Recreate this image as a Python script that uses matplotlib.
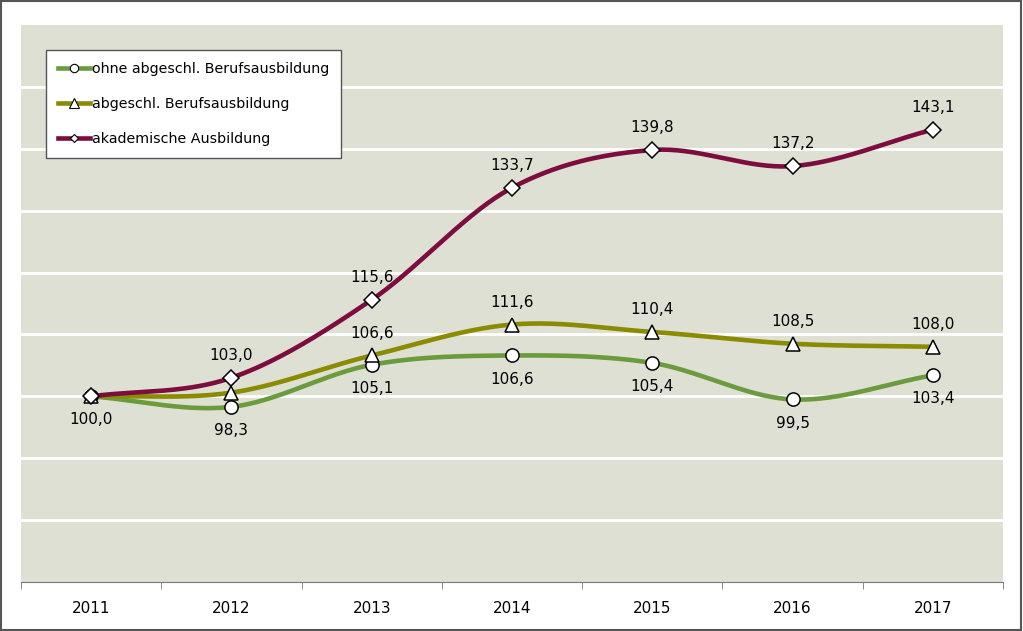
import numpy as np
import matplotlib.pyplot as plt
from matplotlib.lines import Line2D
from matplotlib.patches import Rectangle

years = ['2011', '2012', '2013', '2014', '2015', '2016', '2017']
ohne = [100.0, 98.3, 105.1, 106.6, 105.4, 99.5, 103.4]
abgeschl = [100.0, 100.6, 106.6, 111.6, 110.4, 108.5, 108.0]
akad = [100.0, 103.0, 115.6, 133.7, 139.8, 137.2, 143.1]
names = ['ohne abgeschl. Berufsausbildung', 'abgeschl. Berufsausbildung', 'akademische Ausbildung']

# which labels go below (-1) / above (+1); None = no label
pos_ohne = [-1, -1, -1, -1, -1, -1, -1]
pos_abg = [None, None, 1, 1, 1, 1, 1]
pos_akad = [None, 1, 1, 1, 1, 1, 1]


def smooth(x, y, n=40):
    # catmull-rom spline through the points (like excel's smoothed line)
    x = np.asarray(x, float); y = np.asarray(y, float)
    px = np.concatenate([[2 * x[0] - x[1]], x, [2 * x[-1] - x[-2]]])
    py = np.concatenate([[2 * y[0] - y[1]], y, [2 * y[-1] - y[-2]]])
    xs, ys = [], []
    t = np.linspace(0, 1, n)
    for i in range(1, len(px) - 2):
        for p, out in ((px, xs), (py, ys)):
            p0, p1, p2, p3 = p[i - 1], p[i], p[i + 1], p[i + 2]
            out.append(0.5 * ((2 * p1) + (-p0 + p2) * t + (2 * p0 - 5 * p1 + 4 * p2 - p3) * t ** 2
                              + (-p0 + 3 * p1 - 3 * p2 + p3) * t ** 3))
    return np.concatenate(xs), np.concatenate(ys)


fig = plt.figure(figsize=(10.23, 6.31), dpi=100)
ax = fig.add_axes([21 / 1023, 1 - 582 / 631, 982 / 1023, 557 / 631])
ax.set_facecolor('#dfe0d4')
fig.patches.append(Rectangle((0.001, 0.002), 0.997, 0.996, transform=fig.transFigure,
                             fill=False, edgecolor='#555555', linewidth=1.5))

x = np.arange(len(years))
series = [
    (ohne, '#6a9b3d', 'o', 9.5, pos_ohne, 6),
    (abgeschl, '#8b8b00', '^', 10, pos_abg, 6.5),
    (akad, '#7c0d3e', 'D', 8, pos_akad, 4.5),
]
handles = []
for (vals, col, mk, ms, pos, lms), name in zip(series, names):
    sx, sy = smooth(x, vals)
    ax.plot(sx, sy, color=col, lw=3.3, solid_capstyle='round', zorder=3)
    ax.plot(x, vals, ls='none', marker=mk, ms=ms, mfc='white', mec='black', mew=1.1, zorder=4)
    for xi, v, p in zip(x, vals, pos):
        if p is None:
            continue
        ax.annotate(f'{v:.1f}'.replace('.', ','), (xi, v), xytext=(0, 16 if p > 0 else -17),
                    textcoords='offset points', ha='center', va='center', fontsize=11,
                    color='black', zorder=5)
    handles.append(Line2D([], [], color=col, lw=3.3, marker=mk, ms=lms,
                          mfc='white', mec='black', mew=0.8))

ax.set_xlim(-0.5, 6.5)
ax.set_ylim(70, 160)
ax.set_yticks(np.arange(80, 160, 10))
ax.yaxis.grid(True, color='white', lw=2)
ax.set_axisbelow(True)
ax.tick_params(axis='y', left=False, labelleft=False)
ax.set_xticks(x)
ax.set_xticklabels(years, fontsize=11)
ax.set_xticks(np.arange(-0.5, 7, 1), minor=True)
ax.tick_params(axis='x', which='major', length=0, pad=14)
ax.tick_params(axis='x', which='minor', length=5, color='#777777', direction='out')
for s in ['top', 'left', 'right']:
    ax.spines[s].set_visible(False)
ax.spines['bottom'].set_color('#777777')

leg = ax.legend(handles, names, loc='upper left', bbox_to_anchor=(25 / 982, 1 - 25 / 557),
                frameon=True, fancybox=False, framealpha=1, fontsize=10.3, handlelength=2.2,
                handletextpad=0.15, labelspacing=1.45, borderpad=0.85, borderaxespad=0)
leg.get_frame().set_edgecolor('#555555')
leg.get_frame().set_linewidth(1)

plt.savefig('out.png', dpi=100)
